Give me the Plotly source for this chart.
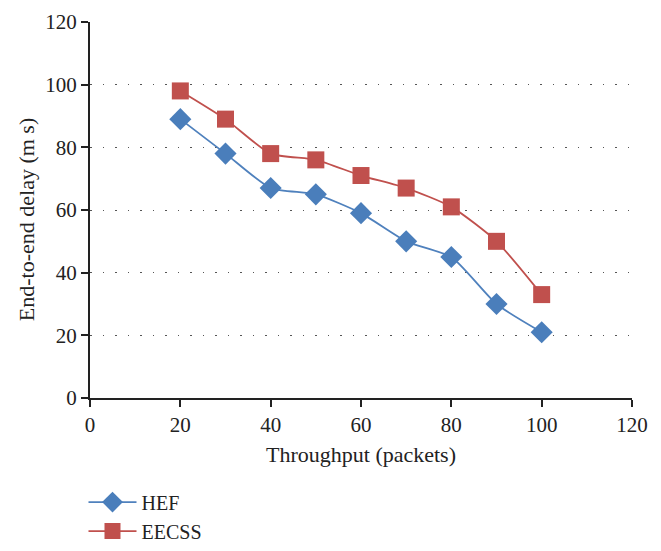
import plotly.graph_objects as go

throughput = [20, 30, 40, 50, 60, 70, 80, 90, 100]
hef_delay = [89, 78, 67, 65, 59, 50, 45, 30, 21]
eecss_delay = [98, 89, 78, 76, 71, 67, 61, 50, 33]

font_family = "Liberation Serif"

fig = go.Figure()
fig.add_trace(go.Scatter(
    x=throughput, y=hef_delay, name="HEF", mode="lines+markers",
    line=dict(color="#4f81bd", width=1.8, shape="spline", smoothing=0.6),
    marker=dict(symbol="diamond", size=17, color="#4a7ebb",
                line=dict(color="#4a7ebb", width=0)),
))
fig.add_trace(go.Scatter(
    x=throughput, y=eecss_delay, name="EECSS", mode="lines+markers",
    line=dict(color="#c0504d", width=1.8, shape="spline", smoothing=0.6),
    marker=dict(symbol="square", size=17, color="#c0504d",
                line=dict(color="#c0504d", width=0)),
))

fig.add_annotation(
    text="End-to-end delay (m s)", textangle=-90,
    xref="paper", yref="paper", x=-0.118, y=0.473,
    xanchor="center", yanchor="middle", showarrow=False,
    font=dict(family=font_family, size=22, color="#222"),
)

fig.update_layout(
    width=653, height=543,
    margin=dict(l=82, r=29, t=14, b=153, autoexpand=False),
    paper_bgcolor="white", plot_bgcolor="white",
    font=dict(family=font_family, size=20, color="#222"),
    showlegend=True,
    legend=dict(orientation="v", x=-0.012, xanchor="left", y=-0.225, yanchor="top",
                font=dict(family=font_family, size=20, color="#222"),
                tracegroupgap=4, itemwidth=48),
    xaxis=dict(
        range=[0, 120], tickvals=[0, 20, 40, 60, 80, 100, 120],
        showgrid=False, zeroline=False, automargin=False,
        showline=True, linecolor="#222", linewidth=2,
        ticks="outside", ticklen=7, tickwidth=2, tickcolor="#222",
        tickfont=dict(size=21),
        title=dict(text="Throughput (packets)", font=dict(size=22), standoff=10),
    ),
    yaxis=dict(
        range=[0, 120], tickvals=[0, 20, 40, 60, 80, 100, 120],
        showgrid=True, gridcolor="#555", gridwidth=1.3, griddash="1.5px,11px",
        zeroline=False, automargin=False,
        showline=True, linecolor="#222", linewidth=2,
        ticks="outside", ticklen=7, tickwidth=2, tickcolor="#222",
        tickfont=dict(size=21),
    ),
)

fig.write_html("out.html")
